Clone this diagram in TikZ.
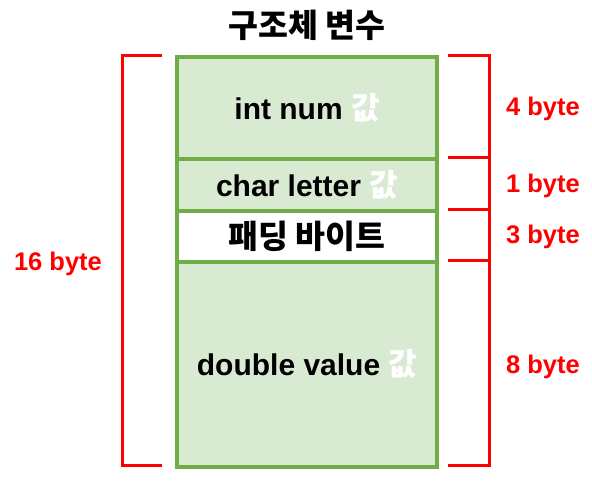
\documentclass[tikz,border=0pt]{standalone}
\usepackage{fontspec}
\setmainfont{Liberation Sans}
\newfontfamily\kr{Noto Sans CJK KR}
\definecolor{cellfill}{RGB}{217,234,211}
\definecolor{celledge}{RGB}{112,173,71}
\definecolor{brk}{RGB}{255,0,0}
\tikzset{
  cell/.style={draw=celledge, line width=3.5pt, fill=cellfill, minimum width=260pt, inner sep=0pt, anchor=north, font=\fontsize{30}{34}\selectfont\bfseries},
  padcell/.style={cell, fill=white},
  bracket/.style={draw=brk, line width=3pt},
  bytelabel/.style={text=brk, font=\fontsize{25.5}{28}\selectfont\bfseries, anchor=base, inner sep=0pt},
  krtitle/.style={font=\fontsize{32.5}{36}\selectfont\kr\bfseries}
}
\newcommand{\gap}{{\kr\bfseries\fontsize{31}{34}\selectfont 값}}
\begin{document}
\begin{tikzpicture}[x=1pt,y=-1pt]
\useasboundingbox (0,0) rectangle (592,485);
\node[krtitle] (title) at (307,25) {구조체 변수};
\node[cell, minimum height=102pt] (c1) at (307,55) {int num \textcolor{white}{\gap}};
\node[cell, minimum height=52pt] (c2) at (307,157) {char letter \textcolor{white}{\gap}};
\node[padcell, minimum height=51pt, krtitle] (c3) at (307,209) {패딩 바이트};
\node[cell, minimum height=205pt] (c4) at (307,260) {double value \textcolor{white}{\gap}};
% left bracket
\coordinate (lt) at (162,55);
\coordinate (lb) at (162,465);
\draw[bracket] (lt) -- (122,55) -- (122,465) -- (lb);
% right brackets
\coordinate (r0) at (448,55);
\coordinate (r1) at (448,157);
\coordinate (r2) at (448,209);
\coordinate (r3) at (448,260);
\coordinate (r4) at (448,465);
\draw[bracket] (r0) -- (489,55) -- (489,465) -- (r4);
\draw[bracket] (r1) -- (489,157);
\draw[bracket] (r2) -- (489,209);
\draw[bracket] (r3) -- (489,260);
\node[bytelabel] (b4) at (543,115) {4 byte};
\node[bytelabel] (b1) at (543,192) {1 byte};
\node[bytelabel] (b3) at (543,243) {3 byte};
\node[bytelabel] (b8) at (543,373) {8 byte};
\node[bytelabel] (b16) at (58,270) {16 byte};
\end{tikzpicture}
\end{document}
